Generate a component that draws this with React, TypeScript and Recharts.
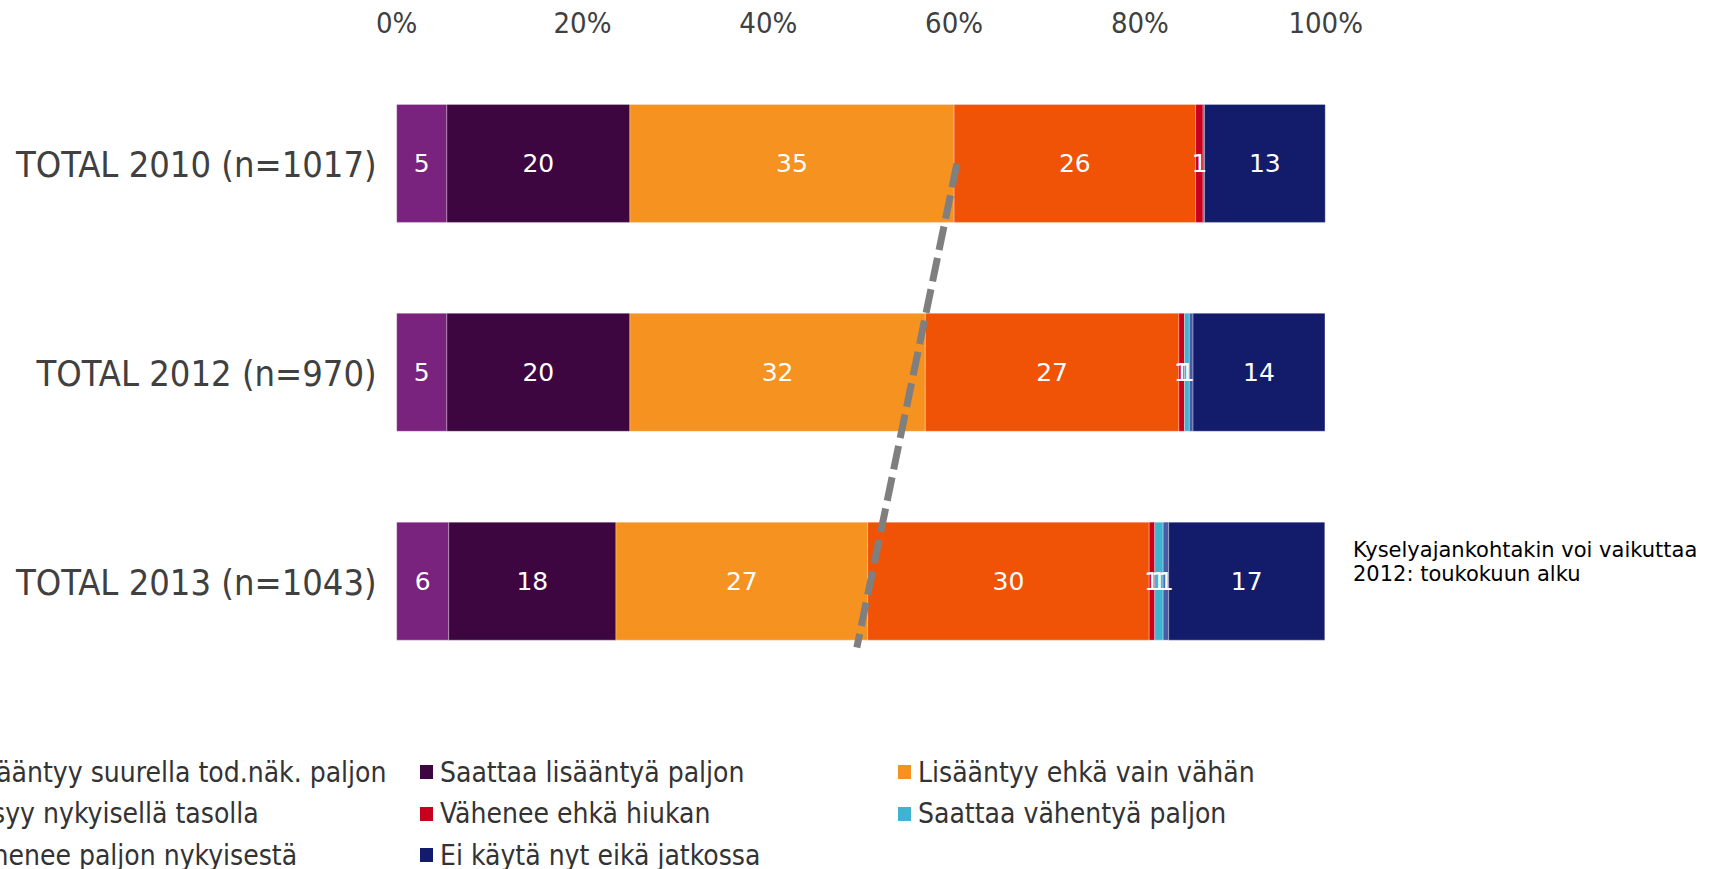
import React from 'react';
import { BarChart, Bar, XAxis, YAxis, LabelList, ReferenceLine } from 'recharts';

const categories = ['TOTAL 2010 (n=1017)', 'TOTAL 2012 (n=970)', 'TOTAL 2013 (n=1043)'];

const seriesNames = [
  'Lisääntyy suurella tod.näk. paljon',
  'Saattaa lisääntyä paljon',
  'Lisääntyy ehkä vain vähän',
  'Pysyy nykyisellä tasolla',
  'Vähenee ehkä hiukan',
  'Saattaa vähentyä paljon',
  'Vähenee paljon nykyisestä',
  'Ei käytä nyt eikä jatkossa',
];
const seriesColors = ['#7a237e', '#3d0640', '#f59220', '#f05206', '#c8001e', '#3fb3cf', '#4a5aa6', '#131c6a'];

// percentages per category (2010, 2012, 2013)
const lisaantyySuurella = [5.4, 5.4, 5.6];
const saattaaLisaantya = [19.7, 19.7, 18.0];
const lisaantyyVahan = [34.9, 31.8, 27.1];
const pysyyTasolla = [26.0, 27.3, 30.3];
const vaheneeHiukan = [0.8, 0.6, 0.6];
const saattaaVahentya = [0, 0.52, 0.9];
const vaheneePaljon = [0.15, 0.4, 0.6];
const eiKayta = [13.0, 14.2, 16.8];

const xTicks = [0, 20, 40, 60, 80, 100];

// dashed annotation line drawn over the bars
const trendLine = [
  { pct: 60.3, cat: categories[0] },
  { pct: 51.0, cat: categories[2] },
];

const noteLines = ['Kyselyajankohtakin voi vaikuttaa', '2012: toukokuun alku'];

const seriesValues = [
  lisaantyySuurella, saattaaLisaantya, lisaantyyVahan, pysyyTasolla,
  vaheneeHiukan, saattaaVahentya, vaheneePaljon, eiKayta,
];
const keys = seriesNames.map((_, i) => `s${i}`);

const data = categories.map((name, ci) => {
  const row: Record<string, any> = { name };
  seriesValues.forEach((vals, si) => { row[keys[si]] = vals[ci]; });
  return row;
});

const condensed = "'DejaVu Sans Condensed', 'DejaVu Sans', sans-serif";

const XTick = (props: any) => {
  const { x, y, payload } = props;
  return (
    <text x={x} y={y - 37} dy="0.35em" textAnchor="middle" fontFamily={condensed}
      style={{ fontStretch: 'condensed' }} fontSize={29} fill="#404040">
      {payload.value}%
    </text>
  );
};

const YTick = (props: any) => {
  const { x, y, payload } = props;
  return (
    <text x={x - 20} y={y + 1} dy="0.35em" textAnchor="end" fontFamily={condensed}
      style={{ fontStretch: 'condensed' }} fontSize={36} fill="#404040">
      {payload.value}
    </text>
  );
};

const DashShape = (props: any) => {
  const { x1, y1, x2, y2 } = props;
  const ext = 0.158;
  return (
    <line x1={x1} y1={y1} x2={x2 + (x2 - x1) * ext} y2={y2 + (y2 - y1) * ext}
      stroke="#7f7f7f" strokeWidth={7} strokeDasharray="24 8" />
  );
};

const fmt = (v: any) => (Math.round(Number(v)) === 0 ? '' : Math.round(Number(v)));

const App: React.FC = () => {
  return (
    <div style={{ position: 'absolute', left: 0, top: 0, width: 1712, height: 869, overflow: 'hidden', background: '#fff' }}>
      <BarChart
        width={1712}
        height={869}
        data={data}
        layout="vertical"
        margin={{ top: 9, right: 386.3, bottom: 183, left: 0 }}
      >
        <XAxis type="number" orientation="top" domain={[0, 100]} ticks={xTicks} height={50.4}
          axisLine={false} tickLine={false} tickSize={0} tickMargin={0} tick={<XTick />} />
        <YAxis type="category" dataKey="name" width={396.7}
          axisLine={false} tickLine={false} tickSize={0} tickMargin={0} tick={<YTick />} />
        {keys.map((k, i) => (
          <Bar key={k} dataKey={k} name={seriesNames[i]} stackId="a" fill={seriesColors[i]}
            stroke="rgba(255,255,255,0.3)" strokeWidth={1} barSize={118} isAnimationActive={false}>
            <LabelList dataKey={k} position="center" formatter={fmt} fill="#fff"
              fontSize={25} fontFamily="'DejaVu Sans', sans-serif" />
          </Bar>
        ))}
        <ReferenceLine
          segment={[{ x: trendLine[0].pct, y: trendLine[0].cat }, { x: trendLine[1].pct, y: trendLine[1].cat }]}
          ifOverflow="visible"
          shape={<DashShape />}
        />
      </BarChart>

      <div style={{ position: 'absolute', left: 1353, top: 538, fontFamily: "'DejaVu Sans', sans-serif", fontSize: 21, lineHeight: '24px', color: '#000', whiteSpace: 'nowrap' }}>
        {noteLines.map((t) => <div key={t}>{t}</div>)}
      </div>

      {seriesNames.map((n, i) => {
        const col = i % 3;
        const row = Math.floor(i / 3);
        return (
          <div key={n} style={{ position: 'absolute', left: -58 + col * 478, top: 772 + row * 41.5 - 20, height: 40, display: 'flex', alignItems: 'center', whiteSpace: 'nowrap' }}>
            <span style={{ display: 'inline-block', width: 13, height: 14, background: seriesColors[i], marginRight: 7 }} />
            <span style={{ fontFamily: condensed, fontStretch: 'condensed', fontSize: 28, color: '#333' }}>{n}</span>
          </div>
        );
      })}
    </div>
  );
};

export default App;
